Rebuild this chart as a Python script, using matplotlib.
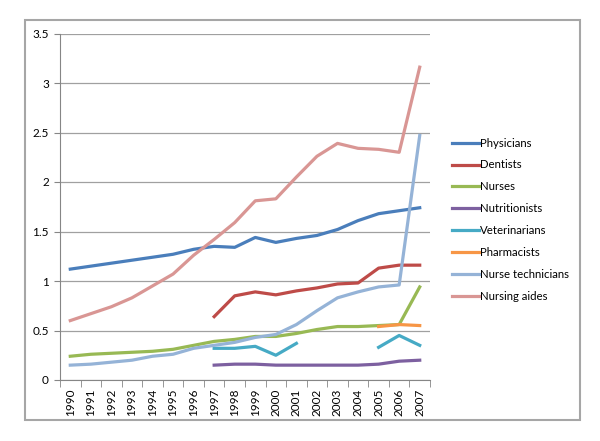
import numpy as np
import matplotlib
matplotlib.use("Agg")
import matplotlib.pyplot as plt
from matplotlib.patches import Rectangle

nan = np.nan
years = [str(y) for y in range(1990, 2008)]
physicians = [1.12, 1.15, 1.18, 1.21, 1.24, 1.27, 1.32, 1.35, 1.34, 1.44, 1.39, 1.43, 1.46, 1.52, 1.61, 1.68, 1.71, 1.74]
dentists = [nan]*7 + [0.64, 0.85, 0.89, 0.86, 0.90, 0.93, 0.97, 0.98, 1.13, 1.16, 1.16]
nurses = [0.24, 0.26, 0.27, 0.28, 0.29, 0.31, 0.35, 0.39, 0.41, 0.44, 0.44, 0.47, 0.51, 0.54, 0.54, 0.55, 0.56, 0.94]
nutritionists = [nan]*7 + [0.15, 0.16, 0.16, 0.15, 0.15, 0.15, 0.15, 0.15, 0.16, 0.19, 0.20]
veterinarians = [nan]*7 + [0.32, 0.32, 0.34, 0.25, 0.37, nan, nan, nan, 0.33, 0.45, 0.35]
pharmacists = [nan]*15 + [0.54, 0.56, 0.55]
nurse_tech = [0.15, 0.16, 0.18, 0.20, 0.24, 0.26, 0.32, 0.35, 0.38, 0.43, 0.46, 0.56, 0.70, 0.83, 0.89, 0.94, 0.96, 2.47]
nursing_aides = [0.60, 0.67, 0.74, 0.83, 0.95, 1.07, 1.26, 1.42, 1.59, 1.81, 1.83, 2.05, 2.26, 2.39, 2.34, 2.33, 2.30, 3.16]

series = [
    ("Physicians", physicians, "#4A7EBB"),
    ("Dentists", dentists, "#BE4B48"),
    ("Nurses", nurses, "#98B954"),
    ("Nutritionists", nutritionists, "#7D60A0"),
    ("Veterinarians", veterinarians, "#46AAC5"),
    ("Pharmacists", pharmacists, "#F79646"),
    ("Nurse technicians", nurse_tech, "#95B3D7"),
    ("Nursing aides", nursing_aides, "#D99694"),
]

plt.rcParams['font.family'] = ['Lato', 'DejaVu Sans']

fig = plt.figure(figsize=(6, 4.41), dpi=100)
fig.patches.append(Rectangle((25/600, 21/441), 555/600, 400/441, transform=fig.transFigure,
                             fill=False, edgecolor="#A6A6A6", linewidth=1.5))
ax = fig.add_axes([60/600, 61/441, 370/600, 346.5/441])

x = np.arange(len(years))
for name, vals, col in series:
    ax.plot(x, vals, color=col, linewidth=2.3, label=name, solid_joinstyle='round')

ax.set_xlim(-0.5, len(years) - 0.5)
ax.set_ylim(0, 3.5)
ax.set_yticks(np.arange(0, 3.51, 0.5))
ax.set_yticklabels(["0", "0.5", "1", "1.5", "2", "2.5", "3", "3.5"])
ax.set_xticks(x)
ax.set_xticklabels(years, rotation=90)
ax.set_xticks(np.arange(-0.5, len(years), 1), minor=True)
ax.tick_params(axis='x', which='major', length=0, pad=6, labelsize=8.5)
ax.tick_params(axis='x', which='minor', length=5, color="#868686", direction='out')
ax.tick_params(axis='y', length=4, color="#868686", labelsize=8.5, pad=4)
ax.grid(axis='y', color="#A0A0A0", linewidth=0.9)
ax.set_axisbelow(True)
for s in ['top', 'right']:
    ax.spines[s].set_visible(False)
for s in ['left', 'bottom']:
    ax.spines[s].set_color("#868686")

fig.legend(loc='upper left', bbox_to_anchor=(447/600, 1 - 133/441), frameon=False,
           fontsize=8.2, handlelength=2.4, handletextpad=0.1, labelspacing=0.96,
           borderaxespad=0)

fig.savefig("out.png", dpi=100)
